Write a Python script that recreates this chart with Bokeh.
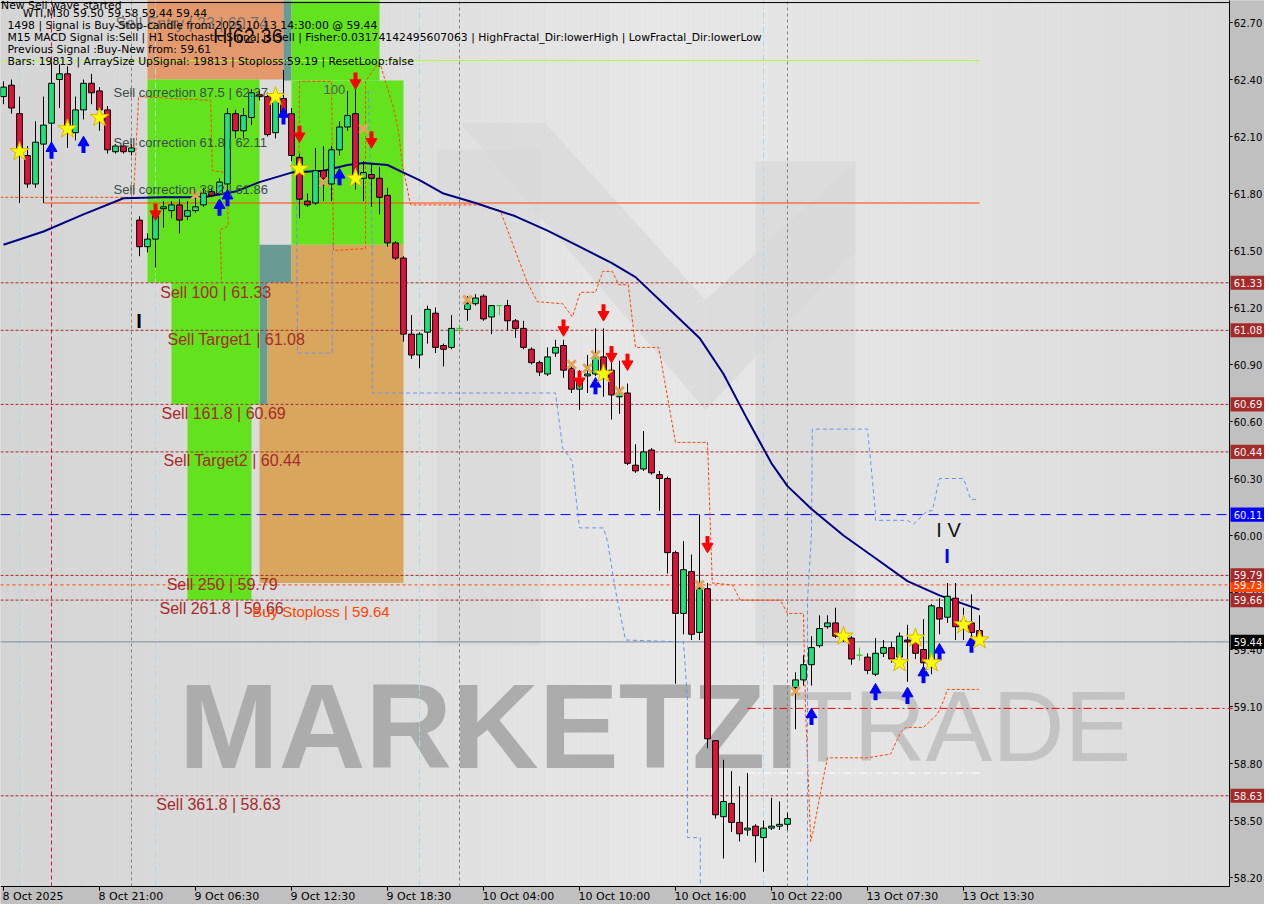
from bokeh.plotting import figure
from bokeh.models import Range1d, Label
from bokeh.embed import file_html
from bokeh.resources import INLINE
from bokeh.core.properties import value

# ---------------- candle data (WTI, M30) ----------------
opens = [62.31, 62.37, 62.22, 62.00, 61.85, 62.06, 62.17, 62.40, 62.43, 62.12,
         62.24, 62.38, 62.34, 62.24, 62.02, 62.05, 62.02, 61.66, 61.52, 61.56,
         61.72, 61.71, 61.74, 61.68, 61.71, 61.74, 61.81, 61.80, 61.85, 62.22,
         62.13, 62.20, 62.32, 62.31, 62.12, 62.30, 62.22, 61.99, 61.76, 61.75,
         61.92, 61.85, 62.03, 62.15, 62.22, 61.88, 61.90, 61.88, 61.79, 61.54,
         61.46, 61.06, 60.95, 61.07, 61.17, 61.00, 60.99, 61.09, 61.19, 61.22,
         61.26, 61.15, 61.21, 61.21, 61.13, 61.09, 60.98, 60.91, 60.85, 60.96,
         61.00, 60.88, 60.77, 60.84, 60.85, 60.94, 60.87, 60.73, 60.75, 60.37,
         60.35, 60.45, 60.32, 60.30, 59.91, 59.59, 59.81, 59.49, 59.72, 58.92,
         58.52, 58.59, 58.49, 58.45, 58.47, 58.41, 58.46, 58.47, 58.48, 59.20,
         59.24, 59.32, 59.42, 59.52, 59.54, 59.47, 59.46, 59.37, 59.36, 59.27,
         59.38, 59.41, 59.36, 59.45, 59.45, 59.40, 59.33, 59.62, 59.57, 59.67,
         59.52, 59.54, 59.50]
closes = [62.36, 62.25, 62.02, 61.85, 62.07, 62.16, 62.38, 62.43, 62.12, 62.24,
          62.38, 62.33, 62.24, 62.03, 62.05, 62.02, 62.04, 61.52, 61.56, 61.69,
          61.73, 61.74, 61.66, 61.71, 61.73, 61.80, 61.79, 61.86, 62.22, 62.13,
          62.21, 62.33, 62.31, 62.11, 62.29, 62.21, 62.00, 61.77, 61.74, 61.92,
          61.88, 62.03, 62.15, 62.21, 61.88, 61.91, 61.88, 61.78, 61.54, 61.46,
          61.06, 60.95, 61.06, 61.19, 60.99, 60.98, 61.09, 61.09, 61.22, 61.25,
          61.14, 61.21, 61.21, 61.13, 61.09, 60.99, 60.91, 60.86, 60.94, 60.99,
          60.87, 60.77, 60.81, 60.85, 60.94, 60.87, 60.74, 60.75, 60.38, 60.34,
          60.44, 60.33, 60.30, 59.91, 59.59, 59.82, 59.48, 59.72, 58.93, 58.53,
          58.60, 58.49, 58.43, 58.46, 58.42, 58.46, 58.47, 58.48, 58.51, 59.24,
          59.32, 59.41, 59.51, 59.54, 59.47, 59.45, 59.35, 59.37, 59.29, 59.38,
          59.41, 59.35, 59.47, 59.44, 59.38, 59.33, 59.63, 59.56, 59.68, 59.52,
          59.55, 59.49, 59.44]
highs = [62.39, 62.40, 62.31, 62.05, 62.18, 62.31, 62.49, 62.48, 62.47, 62.31,
         62.40, 62.43, 62.36, 62.26, 62.06, 62.06, 62.06, 61.68, 61.59, 61.73,
         61.76, 61.76, 61.77, 61.76, 61.80, 61.83, 61.83, 61.88, 62.25, 62.24,
         62.25, 62.35, 62.34, 62.33, 62.35, 62.45, 62.25, 62.01, 61.80, 62.04,
         62.05, 62.05, 62.18, 62.34, 62.40, 61.97, 61.96, 61.94, 61.83, 61.55,
         61.47, 61.16, 61.07, 61.21, 61.20, 61.01, 61.16, 61.11, 61.26, 61.27,
         61.27, 61.21, 61.21, 61.24, 61.14, 61.13, 60.99, 60.92, 60.99, 61.03,
         61.03, 60.89, 60.87, 60.95, 61.09, 61.09, 60.92, 60.92, 60.80, 60.48,
         60.55, 60.46, 60.34, 60.31, 59.92, 59.97, 59.90, 60.11, 59.75, 58.92,
         58.82, 58.76, 58.68, 58.75, 58.48, 58.50, 58.62, 58.60, 58.54, 59.28,
         59.37, 59.47, 59.58, 59.58, 59.62, 59.52, 59.47, 59.41, 59.38, 59.46,
         59.45, 59.44, 59.49, 59.53, 59.49, 59.56, 59.64, 59.67, 59.75, 59.75,
         59.62, 59.69, 59.58]
lows = [62.27, 62.22, 61.75, 61.83, 61.83, 61.75, 62.04, 62.25, 62.04, 62.08,
        62.19, 62.27, 62.13, 62.01, 62.01, 62.01, 62.00, 61.47, 61.49, 61.41,
        61.62, 61.67, 61.59, 61.66, 61.70, 61.73, 61.78, 61.79, 61.78, 62.09,
        62.09, 62.16, 62.29, 62.10, 62.09, 62.18, 61.97, 61.67, 61.73, 61.74,
        61.76, 61.76, 62.00, 62.13, 61.82, 61.76, 61.73, 61.69, 61.52, 61.45,
        61.02, 60.93, 60.88, 61.01, 60.96, 60.89, 60.98, 61.07, 61.13, 61.21,
        61.13, 61.06, 61.16, 61.08, 61.04, 60.98, 60.90, 60.84, 60.84, 60.94,
        60.83, 60.75, 60.66, 60.75, 60.84, 60.73, 60.61, 60.64, 60.37, 60.33,
        60.34, 60.32, 60.13, 59.80, 59.22, 59.48, 59.45, 59.45, 58.88, 58.51,
        58.30, 58.44, 58.39, 58.42, 58.28, 58.23, 58.45, 58.45, 58.45, 58.98,
        59.21, 59.21, 59.41, 59.51, 59.46, 59.44, 59.32, 59.34, 59.27, 59.26,
        59.36, 59.33, 59.33, 59.23, 59.35, 59.27, 59.27, 59.48, 59.54, 59.45,
        59.45, 59.45, 59.44]

# moving average (knots: bar index, price)
ma_x = [0, 5, 10, 15, 20, 25, 29, 32, 36, 40, 43, 45, 48, 50, 52, 55, 59, 64, 68,
        72, 76, 79, 83, 87, 90, 93, 96, 98, 101, 105, 109, 113, 117, 122]
ma_y = [61.53, 61.60, 61.69, 61.775, 61.78, 61.78, 61.81, 61.86, 61.91, 61.92, 61.95,
        61.96, 61.95, 61.91, 61.87, 61.80, 61.75, 61.68, 61.605, 61.52, 61.435, 61.36,
        61.20, 61.04, 60.85, 60.61, 60.38, 60.26, 60.14, 60.00, 59.88, 59.76, 59.685, 59.61]

# indicator step lines (bar index, price)
band_o1_x = [36.9, 37.0, 41.0, 41.25, 45.25, 45.25, 46.9, 47.1, 48.75, 49.4, 49.9, 50.9,
             59.6, 60.9, 62.1, 64.4, 65.5, 66.75, 69.9, 71.1, 72.1, 74.0, 74.9, 76.1, 76.9,
             78.1, 79.0, 81.9, 84.0, 88.0, 88.6, 91.1, 92.1, 97.1, 98.0, 100.0, 100.25,
             100.9, 101.25, 102.5, 103.0, 108.0, 110.9, 112.1, 112.75, 115.0, 116.75,
             117.5, 118.0, 121.9]
band_o1_y = [61.80, 62.39, 62.39, 61.50, 61.51, 62.39, 62.49, 62.48, 62.25, 62.12, 61.94,
             61.74, 61.74, 61.72, 61.71, 61.45, 61.33, 61.23, 61.22, 61.15, 61.28, 61.28,
             61.39, 61.39, 61.32, 61.32, 60.99, 60.99, 60.49, 60.49, 59.75, 59.74, 59.66,
             59.66, 59.59, 59.59, 59.09, 58.39, 58.45, 58.73, 58.83, 58.83, 58.85, 58.96,
             58.99, 58.99, 59.06, 59.13, 59.19, 59.19]
band_o2_x = [-0.4, 16.25, 16.9, 25.9, 26.1, 27.9, 28.1, 27.1, 27.25]
band_o2_y = [61.78, 61.78, 62.31, 62.29, 61.92, 61.91, 61.63, 61.61, 61.33]
band_b0_x = [36.6, 36.75, 41.1, 41.1]
band_b0_y = [61.88, 60.96, 60.96, 61.53]
band_b1_x = [45.6, 46.1, 46.1, 69.0, 69.9, 71.1, 71.5, 72.0, 75.0, 75.5, 76.5, 77.75,
             85.0, 85.5, 85.5, 87.1, 87.1]
band_b1_y = [62.34, 61.53, 60.75, 60.75, 60.46, 60.39, 60.22, 60.04, 60.04, 59.97,
             59.71, 59.45, 59.44, 59.13, 58.41, 58.41, 58.00]
band_b2_x = [100.5, 100.5, 101.0, 101.1, 108.0, 109.0, 109.0, 113.0, 113.75, 115.5,
             116.1, 117.0, 120.0, 120.9, 121.9]
band_b2_y = [58.00, 59.66, 60.01, 60.56, 60.56, 60.12, 60.08, 60.08, 60.06, 60.13,
             60.13, 60.30, 60.30, 60.19, 60.19]

# signal markers
star_x = [2, 8, 12, 34, 37, 44, 75, 105, 112, 114, 116, 120, 122]
star_y = [62.02, 62.14, 62.20, 62.31, 61.93, 61.88, 60.85, 59.47, 59.33, 59.46, 59.33, 59.53, 59.45]
up_x = [6, 10, 27, 28, 35, 42, 74, 101, 109, 113, 115, 117, 121]
up_y = [62.02, 62.05, 61.72, 61.77, 62.20, 61.88, 60.78, 59.04, 59.17, 59.15, 59.26, 59.38, 59.42]
down_x = [19, 37, 44, 46, 70, 72, 75, 76, 78, 88]
down_y = [61.71, 62.12, 62.40, 62.09, 61.10, 60.83, 61.18, 60.96, 60.92, 59.96]
cross_x = [24, 40, 45, 58, 71, 73, 74, 77, 87, 99]
cross_y = [61.79, 61.86, 62.14, 61.24, 60.90, 60.88, 60.95, 60.76, 59.74, 59.18]

# levels
sell_levels = [61.33, 61.08, 60.69, 60.44, 59.79, 59.66, 58.63]
sell_texts = ["Sell 100 | 61.33", "Sell Target1 | 61.08", "Sell 161.8 | 60.69",
              "Sell Target2 | 60.44", "Sell  250 | 59.79", "Sell  261.8 | 59.66",
              "Sell  361.8 | 58.63"]
sell_text_x = [19.6, 20.5, 19.75, 20.0, 20.4, 19.5, 19.1]
sell_text_y = [61.28, 61.03, 60.64, 60.395, 59.74, 59.615, 58.585]
fib_texts = ["Sell correction 87.5 | 62.37", "Sell correction 61.8 | 62.11",
             "Sell correction 38.2 | 61.86"]
fib_y = [62.33, 62.07, 61.82]
blue_level = 60.11
stop_level = 59.74
bid_level = 59.44
red_level = 59.09
white_level = 58.75
green_level = 62.50
orange_level = 61.75

# zones
zone_l = [18, 35, 36, 18, 36, 32, 32, 21, 23, 36, 33, 32]
zone_r = [35, 36, 47, 32, 50, 36, 33, 32, 31, 50, 50, 50]
zone_b = [62.40, 62.395, 62.395, 61.33, 61.53, 61.33, 60.69, 60.69, 59.66, 61.33, 60.69, 59.75]
zone_t = [62.90, 62.90, 62.90, 62.40, 62.395, 61.53, 61.33, 61.33, 60.69, 61.53, 61.33, 60.69]
ORANGE, TEAL, GREEN, TAN = "#e4996c", "#6a9a94", "#63e31d", "#d9a65e"
zone_c = [ORANGE, TEAL, GREEN, GREEN, GREEN, TEAL, TEAL, GREEN, GREEN, TAN, TAN, TAN]

# axis ticks and price tags
y_ticks = [58.2, 58.5, 58.8, 59.1, 59.4, 59.7, 60.0, 60.3, 60.6, 60.9, 61.2, 61.5, 61.8, 62.1, 62.4, 62.7]
x_ticks = [0, 12, 24, 36, 48, 60, 72, 84, 96, 108, 120]
x_labels = ["8 Oct 2025", "8 Oct 21:00", "9 Oct 06:30", "9 Oct 12:30", "9 Oct 18:30",
            "10 Oct 04:00", "10 Oct 10:00", "10 Oct 16:00", "10 Oct 22:00",
            "13 Oct 07:30", "13 Oct 13:30"]
tag_y = [59.74, 61.33, 61.08, 60.69, 60.44, 60.11, 59.79, 59.66, 59.44, 58.63]
tag_text = ["59.73", "61.33", "61.08", "60.69", "60.44", "60.11", "59.79", "59.66", "59.44", "58.63"]
tag_color = ["#ff4500", "#a52a2a", "#a52a2a", "#a52a2a", "#a52a2a", "#0000ff",
             "#a52a2a", "#a52a2a", "#000000", "#a52a2a"]

# ---------------- figure (whole canvas is the plotting frame) ----------------
X0, X1 = -0.375, 157.625          # 8 px per bar
Y0, Y1 = 58.0579, 62.8158         # 190 px per 1.00
CR = 153.25                        # right edge of the chart area
CB = 58.1526                       # bottom edge of the chart area
p = figure(width=1264, height=904, x_range=Range1d(X0, X1), y_range=Range1d(Y0, Y1),
           x_axis_location=None, y_axis_location=None,
           output_backend="svg", toolbar_location=None, min_border=0,
           background_fill_color="#c0c0c0", border_fill_color="#c0c0c0",
           outline_line_color=None)
p.grid.visible = False

# chart background: smooth light shading, lighter towards the middle
anchors = [(X0, 213), (43, 221), (81, 231), (112, 228), (CR, 219)]
bg_l, bg_r, bg_c = [], [], []
step = 2.0
x = X0
while x < CR:
    xr = min(x + step, CR)
    xm = (x + xr) / 2
    for (a, ga), (b, gb) in zip(anchors[:-1], anchors[1:]):
        if a <= xm <= b:
            g = int(round(ga + (gb - ga) * (xm - a) / (b - a)))
            break
    bg_l.append(x)
    bg_r.append(xr + 0.05)
    bg_c.append("#%02x%02x%02x" % (g, g, g))
    x = xr
p.quad(left=bg_l, right=bg_r, bottom=CB, top=Y1 + 0.1, fill_color=bg_c, line_color=None)

# watermark
p.quad(left=[54.25, 94.0], right=[67.1, 106.5], bottom=[59.42, 59.42], top=[62.03, 61.97],
       fill_color="#d9d9d9", fill_alpha=0.8, line_color=None)
p.patches(xs=[[57.1, 67.75, 87.75, 87.75], [87.75, 106.5, 106.5, 87.75]],
          ys=[[62.17, 62.17, 61.24, 60.66], [61.24, 61.97, 61.50, 60.66]],
          fill_color="#d9d9d9", fill_alpha=0.8, line_color=None)
p.text(x=[21.9], y=[59.0], text=["MARKETZI"], text_font=value("Liberation Sans"),
       text_font_style="bold", text_font_size="120px", text_color="#acacac",
       text_baseline="alphabetic", text_align="left")
p.text(x=[98.6], y=[59.0], text=["TRADE"], text_font=value("Liberation Sans"),
       text_font_size="100px", text_color="#c3c3c3",
       text_baseline="alphabetic", text_align="left")

# zones
p.quad(left=zone_l, right=zone_r, bottom=zone_b, top=zone_t, fill_color=zone_c, line_color=None)


# vertical separators
def vlines(xs, **kw):
    p.segment(x0=xs, y0=[CB] * len(xs), x1=xs, y1=[Y1 + 0.1] * len(xs), **kw)


vlines([16, 57, 98], line_color="#808080", line_dash="3 3", line_width=1)
vlines([2, 19, 52, 95], line_color="#add8e6", line_dash="6 3 2 3", line_width=1)
vlines([6], line_color="#dc143c", line_dash="4 3", line_width=1)


# horizontal levels
def hlines(ys, x_from=X0, x_to=CR, **kw):
    p.segment(x0=[x_from] * len(ys), y0=ys, x1=[x_to] * len(ys), y1=ys, **kw)


hlines(sell_levels, line_color="#a52a2a", line_dash="3 2", line_width=1)
hlines([blue_level], line_color="#0000ff", line_dash="10 6", line_width=1)
hlines([stop_level], line_color="#ff4500", line_dash="3 3", line_width=1)
hlines([bid_level], line_color="#7a8a98", line_width=1)
hlines([red_level], x_from=93, line_color="#ff0000", line_dash="8 3 2 3", line_width=1)
hlines([white_level], x_from=93, x_to=122, line_color="#ffffff", line_dash="8 3 2 3", line_width=1)
hlines([green_level], x_to=122, line_color="#adff2f", line_width=1)
hlines([orange_level], x_from=5, x_to=122, line_color="#ff4500", line_width=1)

# indicator bands
p.multi_line(xs=[band_o1_x, band_o2_x], ys=[band_o1_y, band_o2_y], line_color="#ff4500",
             line_dash="3 2", line_width=1)
p.multi_line(xs=[band_b0_x, band_b1_x, band_b2_x], ys=[band_b0_y, band_b1_y, band_b2_y],
             line_color="#6495ed", line_dash="4 3", line_width=1)

# moving average
p.line(ma_x, ma_y, line_color="#000080", line_width=2)

# candles
n = len(opens)
idx = list(range(n))
tops = [max(o, c) for o, c in zip(opens, closes)]
bots = [min(o, c) for o, c in zip(opens, closes)]
fills = ["#1ee27c" if c > o else ("#dc143c" if c < o else "#32cd32") for o, c in zip(opens, closes)]
edges = ["black" if c != o else "#32cd32" for o, c in zip(opens, closes)]
p.segment(x0=idx, y0=lows, x1=idx, y1=highs, line_color=edges, line_width=1)
p.vbar(x=idx, top=tops, bottom=bots, width=0.72, fill_color=fills, line_color=edges, line_width=1)

# markers
p.scatter(cross_x, cross_y, marker="x", size=12, line_color="#e0a458", line_width=3)
p.segment(x0=up_x, y0=[v - 0.037 for v in up_y], x1=up_x, y1=[v + 0.01 for v in up_y],
          line_color="#0000ff", line_width=4)
p.scatter(up_x, [v + 0.018 for v in up_y], marker="triangle", size=11,
          fill_color="#0000ff", line_color="#0000ff")
p.segment(x0=down_x, y0=[v + 0.037 for v in down_y], x1=down_x, y1=[v - 0.01 for v in down_y],
          line_color="#ff0000", line_width=4)
p.scatter(down_x, [v - 0.018 for v in down_y], marker="inverted_triangle", size=11,
          fill_color="#ff0000", line_color="#ff0000")
p.scatter(star_x, star_y, marker="star", size=20, fill_color="#ffff00", line_color="#d9b400",
          line_width=1)

# ---------------- axis panels (price scale right, time scale below) ----------------
p.quad(left=[CR, X0], right=[X1 + 1, X1 + 1], bottom=[Y0 - 1, Y0 - 1], top=[Y1 + 1, CB],
       fill_color="#c0c0c0", line_color=None)
p.segment(x0=[CR, X0, X0], y0=[CB, CB, 62.805], x1=[CR, CR, CR], y1=[Y1 + 0.1, CB, 62.805],
          line_color="black", line_width=1)
# price ticks and labels
p.segment(x0=[CR] * len(y_ticks), y0=y_ticks, x1=[CR + 0.4] * len(y_ticks), y1=y_ticks,
          line_color="black", line_width=1)
p.text(x=[CR + 0.4] * len(y_ticks), y=y_ticks, text=[f"{v:.2f}" for v in y_ticks],
       text_font=value("DejaVu Sans"), text_font_size="10px", text_color="black",
       text_baseline="middle", text_align="left", x_offset=1)
p.segment(x0=[CR] * 2, y0=[red_level, stop_level], x1=[CR + 0.4] * 2, y1=[red_level, stop_level],
          line_color=["#ff0000", "#ff4500"], line_width=1)
# time ticks and labels
p.segment(x0=x_ticks, y0=[CB] * len(x_ticks), x1=x_ticks, y1=[CB - 0.022] * len(x_ticks),
          line_color="black", line_width=1)
p.text(x=x_ticks, y=[CB - 0.05] * len(x_ticks), text=x_labels,
       text_font=value("DejaVu Sans"), text_font_size="11px", text_color="black",
       text_baseline="middle", text_align="left", x_offset=-1)
# coloured price tags
p.quad(left=[CR + 0.12] * len(tag_y), right=[X1 + 1] * len(tag_y),
       bottom=[v - 0.037 for v in tag_y], top=[v + 0.037 for v in tag_y],
       fill_color=tag_color, line_color=None)
p.text(x=[CR + 0.4] * len(tag_y), y=tag_y, text=tag_text,
       text_font=value("DejaVu Sans"), text_font_size="10px", text_color="#f4f4f4",
       text_baseline="middle", text_align="left", x_offset=1)


def lab(x, y, text, color="black", size=11, font="DejaVu Sans", style="normal"):
    p.add_layout(Label(x=x, y=y, text=text, text_color=color, text_font_size=f"{size}px",
                       text_font=font, text_font_style=style, text_baseline="middle",
                       text_align="left"))


# zone / level texts
lab(14.0, 62.695, "Sell Entry | 23 | 60.74", color="#707070", size=16, font="Liberation Sans")
for t, y in zip(fib_texts, fib_y):
    lab(13.75, y, t, color="#3a4c4c", size=13, font="Liberation Sans")
lab(40.0, 62.35, "100", color="#4e5a5a", size=13, font="Liberation Sans")
for t, x_, y in zip(sell_texts, sell_text_x, sell_text_y):
    lab(x_, y, t, color="#a52a2a", size=16, font="Liberation Sans")
lab(31.1, 59.60, "Buy Stoploss | 59.64", color="#ff4500", size=15, font="Liberation Sans")
lab(26.2, 62.63, "H|62.36", color="#111111", size=20, font="Liberation Sans")
lab(116.6, 60.03, "I V", color="#111111", size=20, font="Liberation Sans")
lab(117.6, 59.89, "I", color="#0000ff", size=20, font="Liberation Sans", style="bold")
lab(16.6, 61.13, "I", color="#000000", size=20, font="Liberation Sans", style="bold")

# info block
lab(-0.3, 62.792, "New Sell wave started", size=10.8)
lab(2.4, 62.745, "WTI,M30  59.50 59.58 59.44 59.44", size=10.8)
lab(0.5, 62.683, "1498 | Signal is Buy-Stop-candle from:2025.10.13 14:30:00 @ 59.44", size=10.8)
lab(0.5, 62.620, "M15 MACD Signal is:Sell | H1 Stochastic Signal is:Sell | Fisher:0.03174142495607063 | HighFractal_Dir:lowerHigh | LowFractal_Dir:lowerLow", size=10.8)
lab(0.5, 62.557, "Previous Signal :Buy-New from: 59.61", size=10.8)
lab(0.5, 62.494, "Bars: 19813 | ArraySize UpSignal: 19813 | Stoploss:59.19 | ResetLoop:false", size=10.8)

open("out.html", "w").write(file_html(p, INLINE))
